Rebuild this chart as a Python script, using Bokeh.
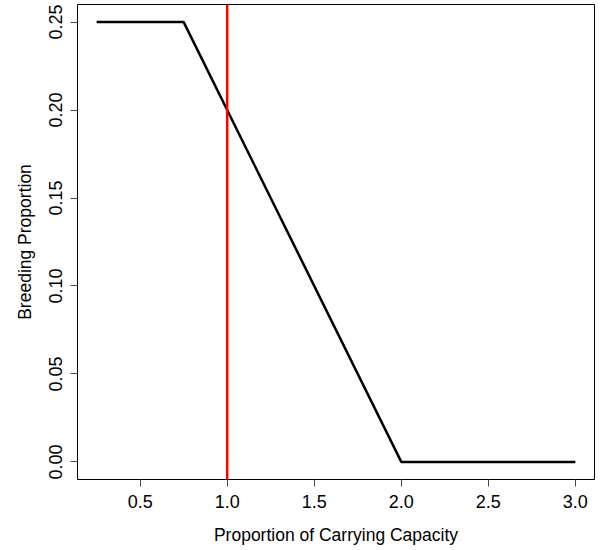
from bokeh.plotting import figure
from bokeh.models import Range1d, FixedTicker, Span
from bokeh.embed import file_html
from bokeh.resources import INLINE

capacity = [0.25, 0.75, 2.0, 3.0]
breeding = [0.25, 0.25, 0.0, 0.0]
marker_x = 1.0
x_ticks = [0.5, 1.0, 1.5, 2.0, 2.5, 3.0]
y_ticks = [0.0, 0.05, 0.10, 0.15, 0.20, 0.25]

p = figure(width=601, height=550, output_backend="svg", toolbar_location=None,
           x_range=Range1d(0.14, 3.11), y_range=Range1d(-0.01, 0.26),
           min_border_left=77, min_border_right=7, min_border_top=4, min_border_bottom=71)
p.xgrid.visible = False
p.ygrid.visible = False
p.outline_line_color = "black"
p.outline_line_width = 1
p.background_fill_color = "white"
p.border_fill_color = "white"

p.line(capacity, breeding, line_color="black", line_width=2.5)
p.add_layout(Span(location=marker_x, dimension="height", line_color="#ff0000", line_width=2.5))

for ax in (p.xaxis[0], p.yaxis[0]):
    ax.axis_line_color = None
    ax.major_tick_out = 7
    ax.major_tick_in = 0
    ax.minor_tick_out = 0
    ax.minor_tick_in = 0
    ax.major_tick_line_color = "#444444"
    ax.major_label_text_font = "Liberation Sans"
    ax.major_label_text_font_size = "18px"
    ax.major_label_text_color = "black"
    ax.axis_label_text_font = "Liberation Sans"
    ax.axis_label_text_font_size = "17.5px"
    ax.axis_label_text_font_style = "normal"
    ax.axis_label_text_color = "black"

p.xaxis[0].ticker = FixedTicker(ticks=x_ticks)
p.xaxis[0].major_label_overrides = {v: f"{v:.1f}" for v in x_ticks}
p.xaxis[0].axis_label = "Proportion of Carrying Capacity"
p.xaxis[0].major_label_standoff = 8
p.xaxis[0].axis_label_standoff = 14

p.yaxis[0].ticker = FixedTicker(ticks=y_ticks)
p.yaxis[0].major_label_overrides = {v: f"{v:.2f}" for v in y_ticks}
p.yaxis[0].major_label_orientation = "vertical"
p.yaxis[0].axis_label = "Breeding Proportion"
p.yaxis[0].major_label_standoff = 8
p.yaxis[0].axis_label_standoff = 12

open("out.html", "w").write(file_html(p, INLINE))
